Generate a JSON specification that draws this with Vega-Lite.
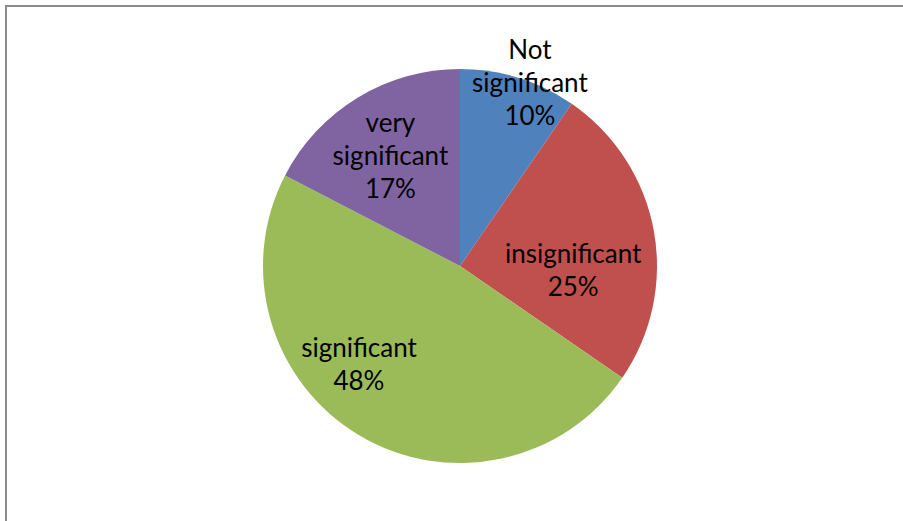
{
  "$schema": "https://vega.github.io/schema/vega-lite/v6.json",
  "width": 908,
  "height": 520,
  "autosize": {"type": "none"},
  "padding": {"left": 6, "top": 6, "right": -11, "bottom": -5},
  "background": "white",
  "config": {"view": {"stroke": null}},
  "data": {
    "values": [
      {"category": "Not significant", "value": 9.6, "label": "Not\nsignificant\n10%", "idx": 1},
      {"category": "insignificant", "value": 25, "label": "insignificant\n25%", "idx": 2},
      {"category": "significant", "value": 48, "label": "significant\n48%", "idx": 3},
      {"category": "very significant", "value": 17.4, "label": "very\nsignificant\n17%", "idx": 4}
    ]
  },
  "layer": [
    {
      "data": {"values": [{"frame": "chart area"}]},
      "mark": {"type": "rect", "fill": null, "stroke": "#8c8c8c", "strokeWidth": 2},
      "encoding": {}
    },
    {
      "mark": {"type": "arc", "outerRadius": 197},
      "encoding": {
        "theta": {"field": "value", "type": "quantitative", "stack": true},
        "order": {"field": "idx", "type": "quantitative"},
        "color": {
          "field": "category",
          "type": "nominal",
          "scale": {
            "domain": ["Not significant", "insignificant", "significant", "very significant"],
            "range": ["#4F81BD", "#C0504D", "#9BBB59", "#8064A2"]
          },
          "legend": null
        }
      }
    },
    {
      "mark": {"type": "text", "radius": 195, "dx": 12, "dy": -29, "fontSize": 26, "font": "Lato", "lineBreak": "\n", "lineHeight": 33, "color": "#000000", "baseline": "middle", "align": "center"},
      "encoding": {
        "theta": {"field": "value", "type": "quantitative", "stack": true},
        "order": {"field": "idx", "type": "quantitative"},
        "text": {"condition": {"test": "datum.category === 'Not significant'", "field": "label", "type": "nominal"}, "value": ""}
      }
    },
    {
      "mark": {"type": "text", "radius": 113, "dx": 2, "dy": 9.5, "fontSize": 26, "font": "Lato", "lineBreak": "\n", "lineHeight": 33, "color": "#000000", "baseline": "middle", "align": "center"},
      "encoding": {
        "theta": {"field": "value", "type": "quantitative", "stack": true},
        "order": {"field": "idx", "type": "quantitative"},
        "text": {"condition": {"test": "datum.category === 'insignificant'", "field": "label", "type": "nominal"}, "value": ""}
      }
    },
    {
      "mark": {"type": "text", "radius": 142, "dx": -28, "dy": -38.5, "fontSize": 26, "font": "Lato", "lineBreak": "\n", "lineHeight": 33, "color": "#000000", "baseline": "middle", "align": "center"},
      "encoding": {
        "theta": {"field": "value", "type": "quantitative", "stack": true},
        "order": {"field": "idx", "type": "quantitative"},
        "text": {"condition": {"test": "datum.category === 'significant'", "field": "label", "type": "nominal"}, "value": ""}
      }
    },
    {
      "mark": {"type": "text", "radius": 130, "dx": -2, "dy": -31, "fontSize": 26, "font": "Lato", "lineBreak": "\n", "lineHeight": 33, "color": "#000000", "baseline": "middle", "align": "center"},
      "encoding": {
        "theta": {"field": "value", "type": "quantitative", "stack": true},
        "order": {"field": "idx", "type": "quantitative"},
        "text": {"condition": {"test": "datum.category === 'very significant'", "field": "label", "type": "nominal"}, "value": ""}
      }
    }
  ]
}
